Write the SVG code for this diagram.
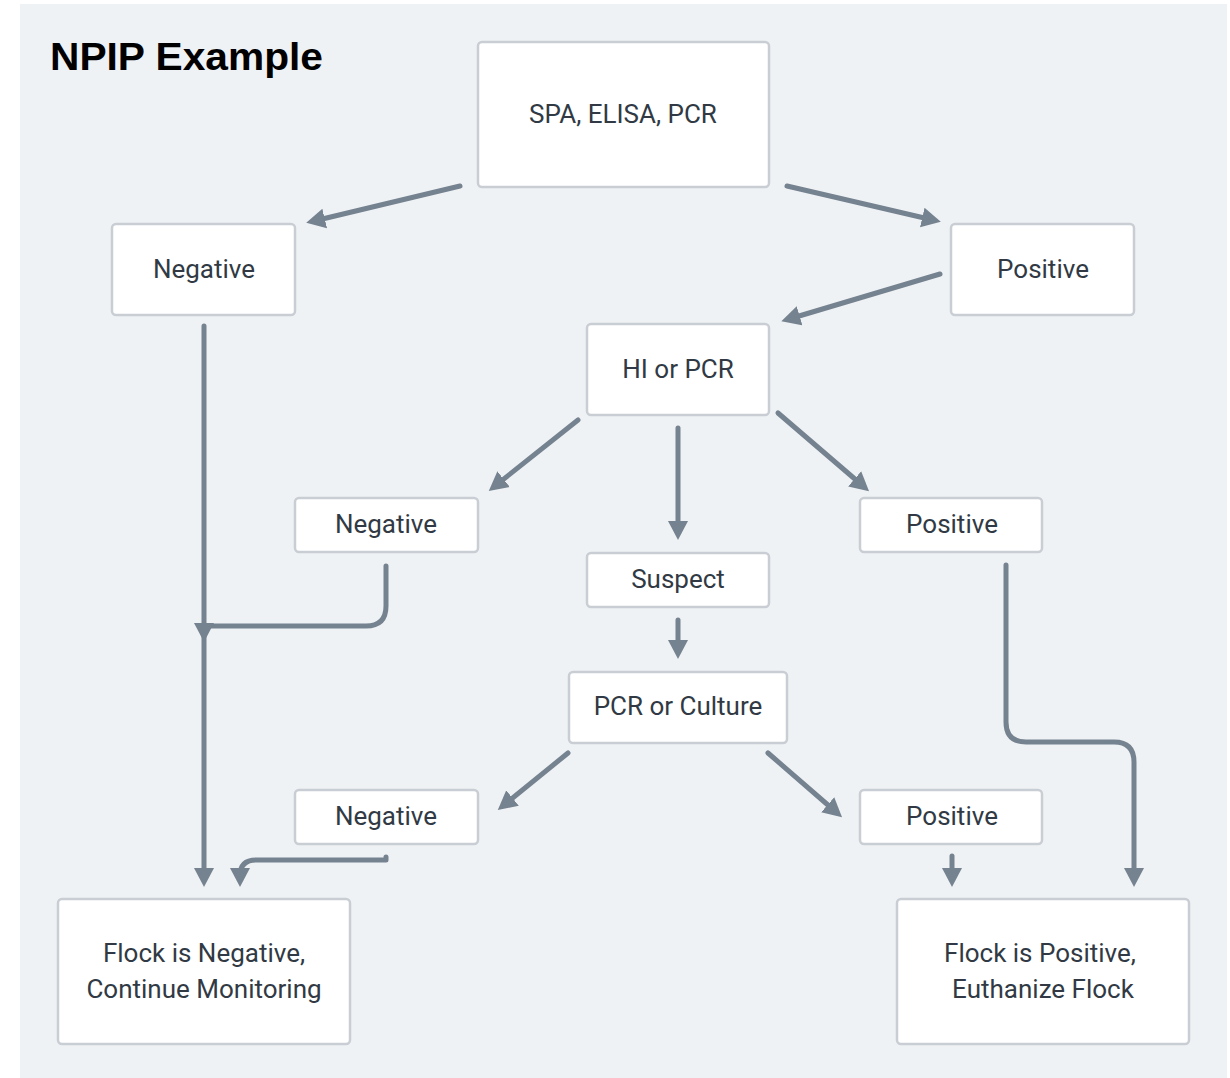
<svg xmlns="http://www.w3.org/2000/svg" width="1230" height="1078" viewBox="0 0 1230 1078">
<style>
.bg{fill:#eff2f5}
.box rect{fill:#ffffff;stroke:#c9ced4;stroke-width:2.5}
.box text{font-family:Roboto,"DejaVu Sans",sans-serif;font-size:26px;fill:#313a44;text-anchor:middle}
.title{font-family:"Liberation Sans",Arial,sans-serif;font-weight:bold;font-size:39px;fill:#000}
.conn path{fill:none;stroke:#75828f;stroke-width:5;stroke-linecap:round;stroke-linejoin:round}
</style>
<defs>
<marker id="ah" markerUnits="userSpaceOnUse" viewBox="0 0 22 22" markerWidth="22" markerHeight="22" refX="11" refY="11" orient="auto">
<path d="M0,1 L19,11 L0,21 z" fill="#75828f"/>
</marker>
</defs>
<rect class="bg" x="20" y="4" width="1207" height="1074"/>
<text class="title" x="50" y="70" textLength="273" lengthAdjust="spacingAndGlyphs">NPIP Example</text>

<g class="conn">
<path d="M460,186 L314,221" marker-end="url(#ah)"/>
<path d="M787,186 L933,220" marker-end="url(#ah)"/>
<path d="M204,326 L204,879" marker-end="url(#ah)"/>
<path d="M940,274 L789,319" marker-end="url(#ah)"/>
<path d="M578,420 L495,486" marker-end="url(#ah)"/>
<path d="M678,428 L678,532" marker-end="url(#ah)"/>
<path d="M778,413 L863,486" marker-end="url(#ah)"/>
<path d="M386,566 L386,606 Q386,626 366,626 L206,626"/>
<path d="M204,626 L204,634" marker-end="url(#ah)"/>
<path d="M678,620 L678,651" marker-end="url(#ah)"/>
<path d="M1006,565 L1006,722 Q1006,742 1026,742 L1114,742 Q1134,742 1134,762 L1134,879" marker-end="url(#ah)"/>
<path d="M568,753 L504,805" marker-end="url(#ah)"/>
<path d="M768,753 L836,812" marker-end="url(#ah)"/>
<path d="M386,857 L386,860 L256,860 Q240,860 240,876 L240,879" marker-end="url(#ah)"/>
<path d="M952,856 L952,879" marker-end="url(#ah)"/>
</g>

<g id="n-start" class="box"><rect x="478" y="42" width="291" height="145" rx="4"/><text x="623" y="123">SPA, ELISA, PCR</text></g>
<g id="n-neg1" class="box"><rect x="112" y="224" width="183" height="91" rx="4"/><text x="204" y="278">Negative</text></g>
<g id="n-pos1" class="box"><rect x="951" y="224" width="183" height="91" rx="4"/><text x="1043" y="278">Positive</text></g>
<g id="n-hi" class="box"><rect x="587" y="324" width="182" height="91" rx="4"/><text x="678" y="378">HI or PCR</text></g>
<g id="n-neg2" class="box"><rect x="295" y="498" width="183" height="54" rx="4"/><text x="386" y="533">Negative</text></g>
<g id="n-suspect" class="box"><rect x="587" y="553" width="182" height="54" rx="4"/><text x="678" y="588">Suspect</text></g>
<g id="n-pos2" class="box"><rect x="860" y="498" width="182" height="54" rx="4"/><text x="952" y="533">Positive</text></g>
<g id="n-pcrc" class="box"><rect x="569" y="672" width="218" height="71" rx="4"/><text x="678" y="715">PCR or Culture</text></g>
<g id="n-neg3" class="box"><rect x="295" y="790" width="183" height="54" rx="4"/><text x="386" y="825">Negative</text></g>
<g id="n-pos3" class="box"><rect x="860" y="790" width="182" height="54" rx="4"/><text x="952" y="825">Positive</text></g>
<g id="n-flockneg" class="box"><rect x="58" y="899" width="292" height="145" rx="4"/><text x="204" y="962">Flock is Negative,</text><text x="204" y="998">Continue Monitoring</text></g>
<g id="n-flockpos" class="box"><rect x="897" y="899" width="292" height="145" rx="4"/><text x="1040" y="962">Flock is Positive,</text><text x="1043" y="998">Euthanize Flock</text></g>
</svg>
